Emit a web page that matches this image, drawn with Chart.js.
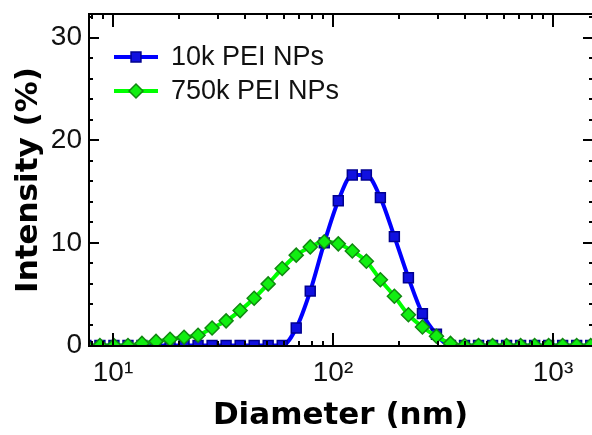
<!DOCTYPE html>
<html>
<head>
<meta charset="utf-8">
<script src="https://cdn.jsdelivr.net/npm/chart.js@4"></script>
<style>
  html, body { margin: 0; padding: 0; background: #fff; }
  canvas { display: block; }
</style>
</head>
<body>
<canvas id="chart" width="592" height="435"></canvas>
<script>
// DLS size bins (nm)
const sizeNm = [7.531, 8.721, 10.1, 11.7, 13.54, 15.69, 18.17, 21.04, 24.36, 28.21,
  32.67, 37.84, 43.82, 50.75, 58.77, 68.06, 78.82, 91.28, 105.7, 122.4,
  141.8, 164.2, 190.1, 220.2, 255.0, 295.3, 342.0, 396.1, 458.7, 531.2,
  615.1, 712.4, 825.0, 955.4, 1106, 1281, 1484, 1718];

// intensity distribution (%)
const pei10k = [0, 0, 0, 0, 0, 0, 0, 0, 0, 0,
  0, 0, 0, 0, 0, 1.7, 5.3, 10.0, 14.1, 16.6,
  16.6, 14.4, 10.6, 6.6, 3.1, 1.1, 0, 0, 0, 0,
  0, 0, 0, 0, 0, 0, 0, 0];
const pei750k = [0, 0, 0, 0, 0.2, 0.4, 0.6, 0.8, 1.0, 1.7,
  2.4, 3.4, 4.6, 6.0, 7.5, 8.8, 9.6, 10.1, 9.9, 9.2,
  8.2, 6.4, 4.8, 3.0, 1.8, 0.9, 0.2, 0, 0, 0,
  0, 0, 0, 0, 0, 0, 0, 0];

const seriesNames = ["10k PEI NPs", "750k PEI NPs"];
const xTickValues = [10, 100, 1000];
const xTickLabels = ["10\u00b9", "10\u00b2", "10\u00b3"];
const yTickValues = [0, 10, 20, 30];

const LABEL_FONT = { family: "'Liberation Sans', Arial, sans-serif", size: 28 };
const TITLE_FONT = { family: "'DejaVu Sans', Verdana, sans-serif", size: 31, weight: "bold" };

const toPoints = (ys) => sizeNm.map((d, i) => ({ x: d, y: ys[i] }));

// box frame, inward ticks on all four sides, and the legend inside the plot
const frameTicks = {
  id: "frameTicks",
  afterDatasetsDraw(chart) {
    const { ctx, chartArea: a, scales: { x, y } } = chart;
    const right = a.right + 1;
    ctx.save();
    ctx.strokeStyle = "#000";
    ctx.lineWidth = 2;
    ctx.strokeRect(a.left, a.top, right - a.left, a.bottom - a.top);

    ctx.beginPath();
    for (let dec = 1; dec <= 1000; dec *= 10) {
      for (let m = 1; m < 10; m++) {
        const v = dec * m;
        if (v < x.min || v > x.max) continue;
        const px = Math.round(x.getPixelForValue(v));
        const len = m === 1 ? 13 : 5;
        ctx.moveTo(px, a.bottom); ctx.lineTo(px, a.bottom - len);
        ctx.moveTo(px, a.top); ctx.lineTo(px, a.top + len);
      }
    }
    for (let v = 2; v <= y.max; v += 2) {
      const py = Math.round(y.getPixelForValue(v));
      const len = v % 10 === 0 ? 10 : 4;
      ctx.moveTo(a.left, py); ctx.lineTo(a.left + len, py);
      ctx.moveTo(right, py); ctx.lineTo(right - len, py);
    }
    ctx.stroke();

    // legend
    const x0 = a.left + 25, x1 = a.left + 69, tx = a.left + 82;
    chart.data.datasets.forEach((ds, i) => {
      const ly = a.top + 43 + i * 34;
      ctx.strokeStyle = ds.borderColor;
      ctx.lineWidth = ds.borderWidth;
      ctx.beginPath();
      ctx.moveTo(x0, ly); ctx.lineTo(x1, ly);
      ctx.stroke();
      ctx.fillStyle = ds.pointBackgroundColor;
      ctx.strokeStyle = ds.pointBorderColor;
      ctx.lineWidth = ds.pointBorderWidth;
      Chart.helpers.drawPoint(ctx, {
        pointStyle: ds.pointStyle, radius: ds.pointRadius,
        rotation: 0, borderWidth: ds.pointBorderWidth
      }, (x0 + x1) / 2, ly);
      ctx.fillStyle = "#111";
      ctx.font = "27px " + LABEL_FONT.family;
      ctx.textAlign = "left";
      ctx.textBaseline = "middle";
      ctx.fillText(ds.label, tx, ly + 1);
    });
    ctx.restore();
  }
};

new Chart(document.getElementById("chart"), {
  type: "line",
  data: {
    datasets: [
      {
        label: seriesNames[0],
        data: toPoints(pei10k),
        borderColor: "#0000ff",
        borderWidth: 4,
        pointStyle: "rect",
        pointRadius: 7,
        pointBackgroundColor: "#1010e0",
        pointBorderColor: "#000090",
        pointBorderWidth: 1.5,
        cubicInterpolationMode: "monotone",
        order: 1
      },
      {
        label: seriesNames[1],
        data: toPoints(pei750k),
        borderColor: "#00ff00",
        borderWidth: 4,
        pointStyle: "rectRot",
        pointRadius: 7,
        pointBackgroundColor: "#11ee11",
        pointBorderColor: "#118811",
        pointBorderWidth: 1.5,
        cubicInterpolationMode: "monotone",
        order: 0
      }
    ]
  },
  options: {
    responsive: false,
    animation: false,
    layout: { autoPadding: false, padding: { top: 14, right: 0, bottom: 0, left: 0 } },
    plugins: { legend: { display: false }, tooltip: { enabled: false } },
    scales: {
      x: {
        type: "logarithmic",
        min: 7.78,
        max: 1504,
        grid: { display: false, drawTicks: false },
        border: { display: false },
        afterBuildTicks: (s) => { s.ticks = xTickValues.map((v) => ({ value: v })); },
        afterFit: (s) => { s.height = 89; s.paddingLeft = 0; s.paddingRight = 0; },
        ticks: {
          font: LABEL_FONT, color: "#111", padding: 10,
          autoSkip: false, maxRotation: 0,
          callback: (v, i) => xTickLabels[i]
        },
        title: {
          display: true, text: "Diameter (nm)", font: TITLE_FONT, color: "#000",
          padding: { top: 0, bottom: 0 }
        }
      },
      y: {
        min: -0.05,
        max: 32.29,
        grid: { display: false, drawTicks: false },
        border: { display: false },
        afterBuildTicks: (s) => { s.ticks = yTickValues.map((v) => ({ value: v })); },
        afterFit: (s) => { s.width = 89; s.paddingTop = 0; s.paddingBottom = 0; },
        ticks: { font: LABEL_FONT, color: "#111", padding: 7 },
        title: {
          display: true, text: "Intensity (%)", font: TITLE_FONT, color: "#000",
          padding: { top: 10, bottom: 0 }
        }
      }
    }
  },
  plugins: [frameTicks]
});
</script>
</body>
</html>
